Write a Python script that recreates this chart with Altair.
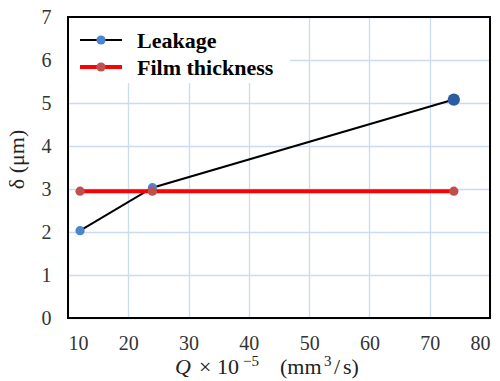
import altair as alt
import pandas as pd

# Flow rate Q (x 10^-5 mm^3/s) and the two thickness series (um)
q_flow = [12, 24, 74]
leakage = [2.03, 3.03, 5.08]
film_thickness = [2.95, 2.95, 2.95]
leak_marker_size = [85, 85, 150]
leak_marker_color = ["#4a86d0", "#4a86d0", "#2c5da0"]

x_ticks = [10, 20, 30, 40, 50, 60, 70, 80]
y_ticks = [0, 1, 2, 3, 4, 5, 6, 7]
legend_labels = ["Leakage", "Film thickness"]

SERIF = "Liberation Serif"
W, H = 422, 301

df = pd.DataFrame({
    "q": q_flow,
    "leak": leakage,
    "film": film_thickness,
    "msize": leak_marker_size,
    "mcolor": leak_marker_color,
})

axis_style = dict(
    grid=True, gridColor="#c9dcf2", gridWidth=1.3,
    ticks=False, domain=False,
    labelFont=SERIF, labelFontSize=20, labelColor="#333",
    titleFont=SERIF, titleFontSize=22, titleFontWeight="normal", titleColor="#222",
)

x_enc = alt.X("q:Q", scale=alt.Scale(domain=[10, 80], nice=False),
              axis=alt.Axis(values=x_ticks, title=None, labelPadding=15, **axis_style))
y_scale = alt.Scale(domain=[0, 7], nice=False)
y_axis = alt.Axis(values=y_ticks, title="δ (μm)", labelPadding=17, titlePadding=13,
                  titleY=142, **axis_style)

base = alt.Chart(df)

leak_line = base.mark_line(color="black", strokeWidth=2).encode(
    x=x_enc, y=alt.Y("leak:Q", scale=y_scale, axis=y_axis))
leak_pts = base.mark_point(filled=True, opacity=1).encode(
    x=x_enc, y=alt.Y("leak:Q", scale=y_scale, axis=y_axis),
    size=alt.Size("msize:Q", scale=None),
    color=alt.Color("mcolor:N", scale=None))
film_line = base.mark_line(color="#ff0000", strokeWidth=4).encode(
    x=x_enc, y=alt.Y("film:Q", scale=y_scale, axis=y_axis))
film_pts = base.mark_point(filled=True, opacity=1, color="#c0504d", size=85).encode(
    x=x_enc, y=alt.Y("film:Q", scale=y_scale, axis=y_axis))

# Legend box (white background hides the grid behind it)
one = pd.DataFrame({"k": [0]})
legend_bg = alt.Chart(one).mark_rect(fill="white").encode(
    x=alt.value(1), x2=alt.value(222), y=alt.value(1), y2=alt.value(66))

row_y = [23, 50]
legend_layers = [legend_bg]
line_styles = [("black", 2, "#4a86d0"), ("#ff0000", 4, "#c0504d")]
for i, label in enumerate(legend_labels):
    stroke, width, mcol = line_styles[i]
    legend_layers.append(alt.Chart(one).mark_rule(color=stroke, strokeWidth=width).encode(
        x=alt.value(12), x2=alt.value(54), y=alt.value(row_y[i])))
    legend_layers.append(alt.Chart(one).mark_point(filled=True, opacity=1, color=mcol, size=85).encode(
        x=alt.value(33), y=alt.value(row_y[i])))
    legend_layers.append(alt.Chart(pd.DataFrame({"t": [label]})).mark_text(
        font=SERIF, fontSize=22, fontWeight="bold", color="black",
        align="left", baseline="middle").encode(
        x=alt.value(69), y=alt.value(row_y[i] + 1), text="t:N"))

# Plot frame
frame = alt.Chart(one).mark_rect(fillOpacity=0, stroke="black", strokeWidth=2).encode(
    x=alt.value(0), x2=alt.value(W), y=alt.value(0), y2=alt.value(H))


def title_piece(text, x, y, size=22, style="normal"):
    return alt.Chart(pd.DataFrame({"t": [text]})).mark_text(
        font=SERIF, fontSize=size, fontStyle=style, color="#222",
        align="left", baseline="alphabetic").encode(
        x=alt.value(x), y=alt.value(y), text="t:N")


# x-axis title: Q × 10^-5 (mm^3/s), built from pieces so the exponents sit raised
xb = 357
x_title = [
    title_piece("Q", 107, xb, style="italic"),
    title_piece("× 10", 131, xb),
    title_piece("−5", 175, xb - 8, size=15),
    title_piece("(mm", 212, xb),
    title_piece("3", 256, xb - 8, size=15),
    title_piece("/", 266, xb),
    title_piece("s)", 275, xb),
]

chart = alt.layer(
    leak_line, leak_pts, film_line, film_pts, *legend_layers, frame, *x_title
).properties(
    width=W, height=H,
    autosize=alt.AutoSizeParams(type="none"),
    padding={"left": 68, "top": 17, "right": 10, "bottom": 63},
).configure_view(stroke=None)

chart.save("out.html", embed_options={"renderer": "svg", "actions": False})
